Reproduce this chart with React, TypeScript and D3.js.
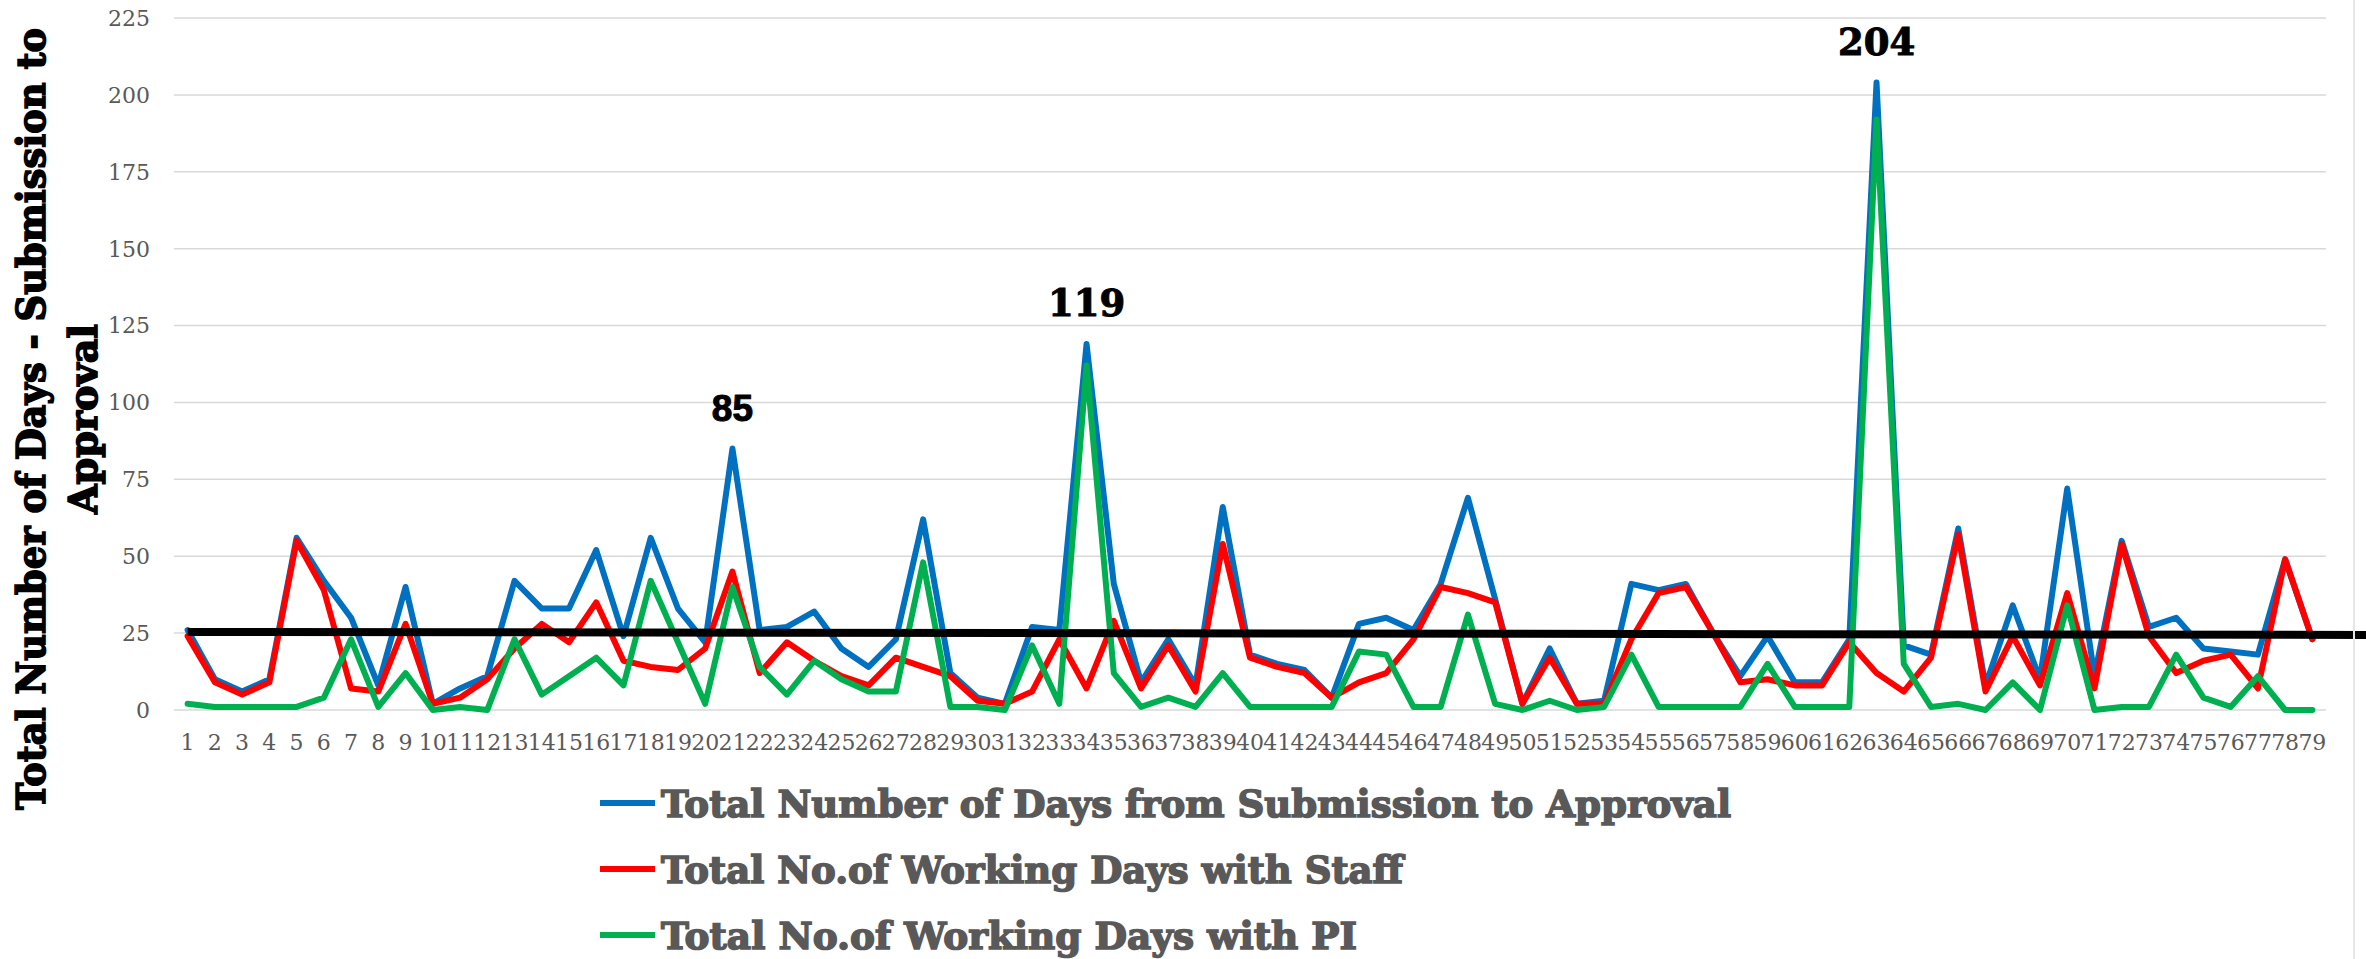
import React from 'react';
import * as d3 from 'd3';

// submission ids 1..79
const categories = Array.from({ length: 79 }, (_, i) => String(i + 1));

const totalDays = [
  26, 10, 6, 10, 56, 42, 30, 8, 40, 2,
  7, 11, 42, 33, 33, 52, 24, 56, 33, 22,
  85, 26, 27, 32, 20, 14, 23, 62, 12, 4,
  2, 27, 26, 119, 41, 9, 23, 8, 66, 18,
  15, 13, 4, 28, 30, 26, 41, 69, 36, 2,
  20, 2, 3, 41, 39, 41, 25, 11, 24, 9,
  9, 23, 204, 21, 18, 59, 8, 34, 10, 72,
  11, 55, 27, 30, 20, 19, 18, 49, 23,
];

const staffDays = [
  24, 9, 5, 9, 55, 39, 7, 6, 28, 2,
  4, 10, 20, 28, 22, 35, 16, 14, 13, 20,
  45, 12, 22, 16, 11, 8, 17, 14, 11, 3,
  2, 6, 23, 7, 29, 7, 21, 6, 54, 17,
  14, 12, 4, 9, 12, 23, 40, 38, 35, 2,
  17, 2, 2, 23, 38, 40, 25, 9, 10, 8,
  8, 22, 12, 6, 17, 57, 6, 24, 8, 38,
  7, 54, 24, 12, 16, 18, 7, 49, 23,
];

const piDays = [
  2, 1, 1, 1, 1, 4, 23, 1, 12, 0,
  1, 0, 23, 5, 11, 17, 8, 42, 22, 2,
  40, 14, 5, 16, 10, 6, 6, 48, 1, 1,
  0, 21, 2, 112, 12, 1, 4, 1, 12, 1,
  1, 1, 1, 19, 18, 1, 1, 31, 2, 0,
  3, 0, 1, 18, 1, 1, 1, 1, 15, 1,
  1, 1, 192, 15, 1, 2, 0, 9, 0, 34,
  0, 1, 1, 18, 4, 1, 11, 0, 0,
];

const yTicks = [0, 25, 50, 75, 100, 125, 150, 175, 200, 225];

// linear trendline: value at submission 1 and change per submission
const trendStart = 25.4;
const trendSlope = -0.0125;

// points with a value label (from the total series)
const labelledPoints = ['21', '34', '63'];
const labelFonts = ['"Liberation Sans", Arial, sans-serif', '"DejaVu Serif", serif', '"DejaVu Serif", serif'];

const seriesNames = [
  'Total Number of Days from Submission to Approval',
  'Total No.of Working Days with Staff',
  'Total No.of Working Days with PI',
];
const seriesColors = ['#0070C0', '#FF0000', '#00B050'];
const legendWidths = [1070, 742, 696];

const yTitle = ['Total Number of Days - Submission to', 'Approval'];

const W = 2366;
const H = 959;
const plot = { left: 174, right: 2326, top: 18, bottom: 710 };
const tickFont = '"DejaVu Serif", serif';
const heavyFont = '"DejaVu Serif", serif';

export default function App() {
  const x = d3.scaleBand().domain(categories).range([plot.left, plot.right]).padding(0);
  const cx = (c: string) => (x(c) as number) + x.bandwidth() / 2;
  const y = d3.scaleLinear().domain([0, 225]).range([plot.bottom, plot.top]);

  const line = d3
    .line<number>()
    .x((_, i) => cx(categories[i]))
    .y((d) => y(d));

  const series = [totalDays, staffDays, piDays].map((values, i) => ({
    name: seriesNames[i],
    color: seriesColors[i],
    values,
  }));

  // trendline runs from the first point out past the plot to the edge
  const x0 = cx(categories[0]);
  const trendAt = (px: number) => trendStart + trendSlope * ((px - x0) / x.bandwidth());
  const trendPath = d3.line<number>().x((d) => d).y((d) => y(trendAt(d)))([x0, W]) as string;

  return (
    <svg
      width={W}
      height={H}
      style={{ position: 'absolute', left: 0, top: 0, display: 'block', background: '#fff' }}
    >
      {/* gridlines + y ticks */}
      {yTicks.map((t) => (
        <g key={t}>
          <line x1={plot.left} x2={plot.right} y1={y(t)} y2={y(t)} stroke="#d9d9d9" strokeWidth={1.5} />
          <text
            x={150}
            y={y(t)}
            dy="0.36em"
            textAnchor="end"
            fontFamily={tickFont}
            fontSize={22}
            fill="#595959"
          >
            {t}
          </text>
        </g>
      ))}

      {/* x tick labels */}
      {categories.map((c) => (
        <text
          key={c}
          x={cx(c)}
          y={750}
          textAnchor="middle"
          fontFamily={tickFont}
          fontSize={22}
          fill="#595959"
        >
          {c}
        </text>
      ))}

      {/* series */}
      {series.map((s) => (
        <path
          key={s.name}
          d={line(s.values) as string}
          fill="none"
          stroke={s.color}
          strokeWidth={6}
          strokeLinejoin="round"
          strokeLinecap="round"
        />
      ))}

      <path d={trendPath} fill="none" stroke="#000" strokeWidth={8} />

      {/* value labels */}
      {labelledPoints.map((c, i) => {
        const v = totalDays[categories.indexOf(c)];
        return (
          <text
            key={c}
            x={cx(c)}
            y={y(v) - 28}
            textAnchor="middle"
            fontFamily={labelFonts[i]}
            fontWeight="bold"
            fontSize={37}
            fill="#000"
            stroke="#000"
            strokeWidth={1}
          >
            {v}
          </text>
        );
      })}

      {/* legend */}
      {series.map((s, i) => {
        const ly = 803 + i * 66;
        return (
          <g key={s.name}>
            <line x1={600} x2={655} y1={ly} y2={ly} stroke={s.color} strokeWidth={6} />
            <text
              x={661}
              y={ly + 14}
              fontFamily={heavyFont}
              fontWeight="bold"
              fontSize={38}
              fill="#595959"
              stroke="#595959"
              strokeWidth={1.6}
              textLength={legendWidths[i]}
              lengthAdjust="spacingAndGlyphs"
            >
              {s.name}
            </text>
          </g>
        );
      })}

      {/* y axis title */}
      <g transform="translate(0,419) rotate(-90)">
        {yTitle.map((t, i) => (
          <text
            key={t}
            x={0}
            y={45 + i * 52}
            textAnchor="middle"
            fontFamily={heavyFont}
            fontWeight="bold"
            fontSize={39}
            fill="#000"
            stroke="#000"
            strokeWidth={1.6}
            textLength={i === 0 ? 782 : 190}
            lengthAdjust="spacingAndGlyphs"
          >
            {t}
          </text>
        ))}
      </g>

      <line x1={2354} x2={2354} y1={0} y2={H} stroke="#e6e6e6" strokeWidth={2} />
    </svg>
  );
}
